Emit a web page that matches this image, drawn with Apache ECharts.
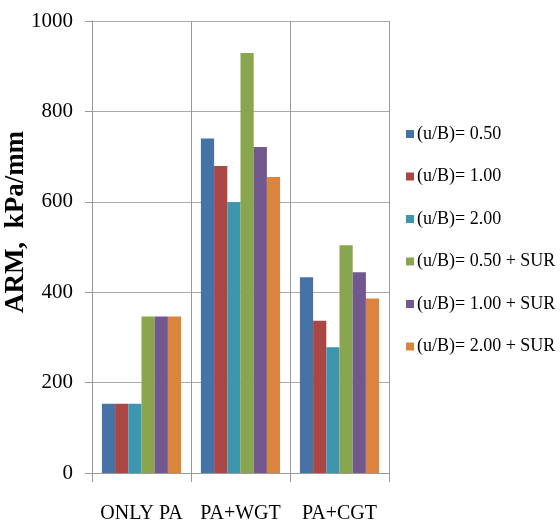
<!DOCTYPE html>
<html>
<head>
<meta charset="utf-8">
<script src="https://cdn.jsdelivr.net/npm/echarts@6/dist/echarts.min.js"></script>
<style>html,body{margin:0;padding:0;background:#fff;}#c{width:560px;height:526px;}</style>
</head>
<body>
<div id="c"></div>
<script>
var categories = ['ONLY PA', 'PA+WGT', 'PA+CGT'];
var seriesNames = ['(u/B)= 0.50', '(u/B)= 1.00', '(u/B)= 2.00', '(u/B)= 0.50 + SUR', '(u/B)= 1.00 + SUR', '(u/B)= 2.00 + SUR'];
var ub050 = [153, 740, 433];
var ub100 = [153, 679, 337];
var ub200 = [153, 599, 278];
var ub050sur = [346, 929, 504];
var ub100sur = [346, 721, 444];
var ub200sur = [346, 655, 386];
var yTicks = [0, 200, 400, 600, 800, 1000];
var colors = ['#4572A7', '#AA4643', '#3D96AE', '#89A54E', '#71588F', '#DB843D'];

var values = [ub050, ub100, ub200, ub050sur, ub100sur, ub200sur];
var font = 'Liberation Serif';
var chart = echarts.init(document.getElementById('c'), null, {renderer: 'canvas'});
chart.setOption({
  animation: false,
  color: colors,
  grid: {left: 92, right: 171, top: 21, bottom: 53, containLabel: false, outerBoundsMode: 'none'},
  legend: {
    orient: 'vertical',
    left: 401,
    top: 119,
    itemWidth: 8,
    itemHeight: 8,
    itemGap: 22.5,
    icon: 'rect',
    textStyle: {fontFamily: font, fontSize: 18, color: '#000', lineHeight: 20, padding: [0, 0, 0, -2]},
    data: seriesNames
  },
  xAxis: {
    type: 'category',
    data: categories,
    axisLine: {show: true, lineStyle: {color: '#999', width: 1}},
    axisTick: {show: true, interval: 0, length: 9, lineStyle: {color: '#999'}},
    splitLine: {show: true, interval: 0, lineStyle: {color: '#999', width: 1}},
    axisLabel: {interval: 0, fontFamily: font, fontSize: 20, color: '#000', margin: 31}
  },
  yAxis: {
    type: 'value',
    min: yTicks[0],
    max: yTicks[yTicks.length - 1],
    interval: 200,
    name: 'ARM,  kPa/mm',
    nameLocation: 'middle',
    nameGap: 62,
    nameMoveOverlap: false,
    nameTextStyle: {fontFamily: font, fontSize: 27, fontWeight: 'bold', color: '#000', padding: [0, 0, 0, 50]},
    axisLine: {show: true, lineStyle: {color: '#999', width: 1}},
    axisTick: {show: true, length: 7, lineStyle: {color: '#999'}},
    splitLine: {show: true, lineStyle: {color: '#aaa', width: 1}},
    axisLabel: {fontFamily: font, fontSize: 21, color: '#000', margin: 19, formatter: function (v) { return String(v); }}
  },
  series: seriesNames.map(function (n, i) {
    return {
      name: n,
      type: 'bar',
      data: values[i],
      barGap: '0%',
      barCategoryGap: '20%',
      itemStyle: {color: colors[i]}
    };
  })
});
</script>
</body>
</html>
